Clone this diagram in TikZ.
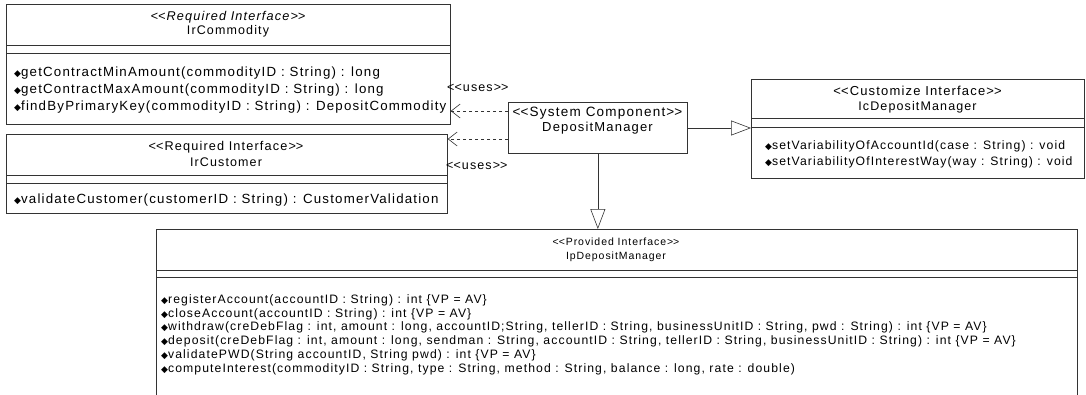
\documentclass[tikz,border=0pt]{standalone}
\usepackage{fontspec}
\setmainfont{Liberation Sans}[LetterSpace=9]
\newfontfamily\markfont{DejaVu Sans}
\usetikzlibrary{arrows.meta,positioning}

\newcommand\opmark{{\markfont\fontsize{9}{9}\selectfont\char"25C6}}
\newcommand\stereo[1]{<\kern0pt<#1>\kern0pt>}

\tikzset{
  classbox/.style={draw=black!80, line width=0.7pt, anchor=north west, inner sep=0pt},
  headtext/.style={font=\fontsize{12.5}{14}\selectfont, inner sep=0pt},
  optext/.style={font=\fontsize{13.3}{15}\selectfont, anchor=west, inner sep=0pt},
  smallop/.style={optext, font=\fontsize{12.2}{14}\selectfont},
  usestext/.style={font=\fontsize{12.5}{14}\selectfont, anchor=west, inner sep=0pt},
  sepline/.style={draw=black!80, line width=0.7pt},
  usesline/.style={draw=black!80, line width=0.6pt, dashed,
    -{Straight Barb[length=9pt,width=14pt]}},
  realizeline/.style={draw=black!80, line width=0.6pt,
    -{Triangle[open,length=20pt,width=15pt,fill=white]}}
}

\begin{document}
\begin{tikzpicture}[x=1pt,y=-1pt]
\useasboundingbox (0,0) rectangle (1086,394);
\clip (0,0) rectangle (1086,394);

% required interface IrCommodity
\node[classbox, minimum width=444pt, minimum height=120pt] (irc) at (6,4) {};
\node[headtext, font=\fontsize{12.7}{14}\selectfont] (ircst) at (228,17) {\itshape\stereo{Required Interface}};
\node[headtext] (ircname) at (228,31) {IrCommodity};
\draw[sepline] (irc.west |- 0,45) -- (irc.east |- 0,45);
\draw[sepline] (irc.west |- 0,53) -- (irc.east |- 0,53);
\foreach \op [count=\i] in {{getContractMinAmount(commodityID : String) : long},
    {getContractMaxAmount(commodityID : String) : long},
    {findByPrimaryKey(commodityID : String) : DepositCommodity}}
  \node[optext] (ircop\i) at (14,{73+17*(\i-1)}) {\opmark\op};

% required interface IrCustomer
\node[classbox, minimum width=441pt, minimum height=79pt] (icu) at (6,134) {};
\node[headtext, font=\fontsize{12.7}{14}\selectfont] (icust) at (226,147) {\stereo{Required Interface}};
\node[headtext] (icuname) at (226,162) {IrCustomer};
\draw[sepline] (icu.west |- 0,175) -- (icu.east |- 0,175);
\draw[sepline] (icu.west |- 0,183) -- (icu.east |- 0,183);
\node[optext] (icuop1) at (14,200) {\opmark validateCustomer(customerID : String) : CustomerValidation};

% system component
\node[classbox, minimum width=179pt, minimum height=51pt] (dm) at (508,102) {};
\node[headtext, font=\fontsize{13.5}{15}\selectfont] (dmst) at (597.5,113) {\stereo{System Component}};
\node[headtext, font=\fontsize{13}{15}\selectfont] (dmname) at (597.5,128) {DepositManager};

% customize interface
\node[classbox, minimum width=333pt, minimum height=99pt] (icd) at (751,79) {};
\node[headtext, font=\fontsize{13}{14}\selectfont] (icdst) at (917.5,91) {\stereo{Customize Interface}};
\node[headtext] (icdname) at (917.5,107) {IcDepositManager};
\draw[sepline] (icd.west |- 0,118) -- (icd.east |- 0,118);
\draw[sepline] (icd.west |- 0,127) -- (icd.east |- 0,127);
\node[optext, font=\fontsize{12.2}{15}\selectfont] (icdop1) at (765,146) {\opmark setVariabilityOfAccountId(case : String) : void};
\node[optext, font=\fontsize{12.2}{15}\selectfont] (icdop2) at (765,162) {\opmark setVariabilityOfInterestWay(way : String) : void};

% provided interface
\node[classbox, minimum width=921pt, minimum height=175pt] (ipd) at (156,229) {};
\node[headtext, font=\fontsize{10.5}{13}\selectfont] (ipdst) at (616,242) {\stereo{Provided Interface}};
\node[headtext, font=\fontsize{10.5}{13}\selectfont] (ipdname) at (616,257) {IpDepositManager};
\draw[sepline] (ipd.west |- 0,270) -- (ipd.east |- 0,270);
\draw[sepline] (ipd.west |- 0,277) -- (ipd.east |- 0,277);
\foreach \op [count=\i] in {{registerAccount(accountID : String) : int \{VP = AV\}},
    {closeAccount(accountID : String) : int \{VP = AV\}},
    {withdraw(creDebFlag : int, amount : long, accountID;String, tellerID : String, businessUnitID : String, pwd : String) : int \{VP = AV\}},
    {deposit(creDebFlag : int, amount : long, sendman : String, accountID : String, tellerID : String, businessUnitID : String) : int \{VP = AV\}},
    {validatePWD(String accountID, String pwd) : int \{VP = AV\}},
    {computeInterest(commodityID : String, type : String, method : String, balance : long, rate : double)}}
  \node[smallop] (ipdop\i) at (161,{300+13.9*(\i-1)}) {\opmark\op};

% connectors
\coordinate (u1) at ([yshift=-9pt]dm.north west);
\coordinate (u2) at ([yshift=-37pt]dm.north west);
\coordinate (r1) at ([yshift=-26pt]dm.north east);
\draw[usesline] (u1) -- (u1 -| irc.east);
\draw[usesline] (u2) -- (u2 -| icu.east);
\node[usestext] (uses1) at (447,88) {\stereo{uses}};
\node[usestext] (uses2) at (446,166) {\stereo{uses}};
\draw[realizeline] (r1) -- (r1 -| icd.west);
\draw[realizeline] (dm.south) -- (dm.south |- ipd.north);
\end{tikzpicture}
\end{document}
